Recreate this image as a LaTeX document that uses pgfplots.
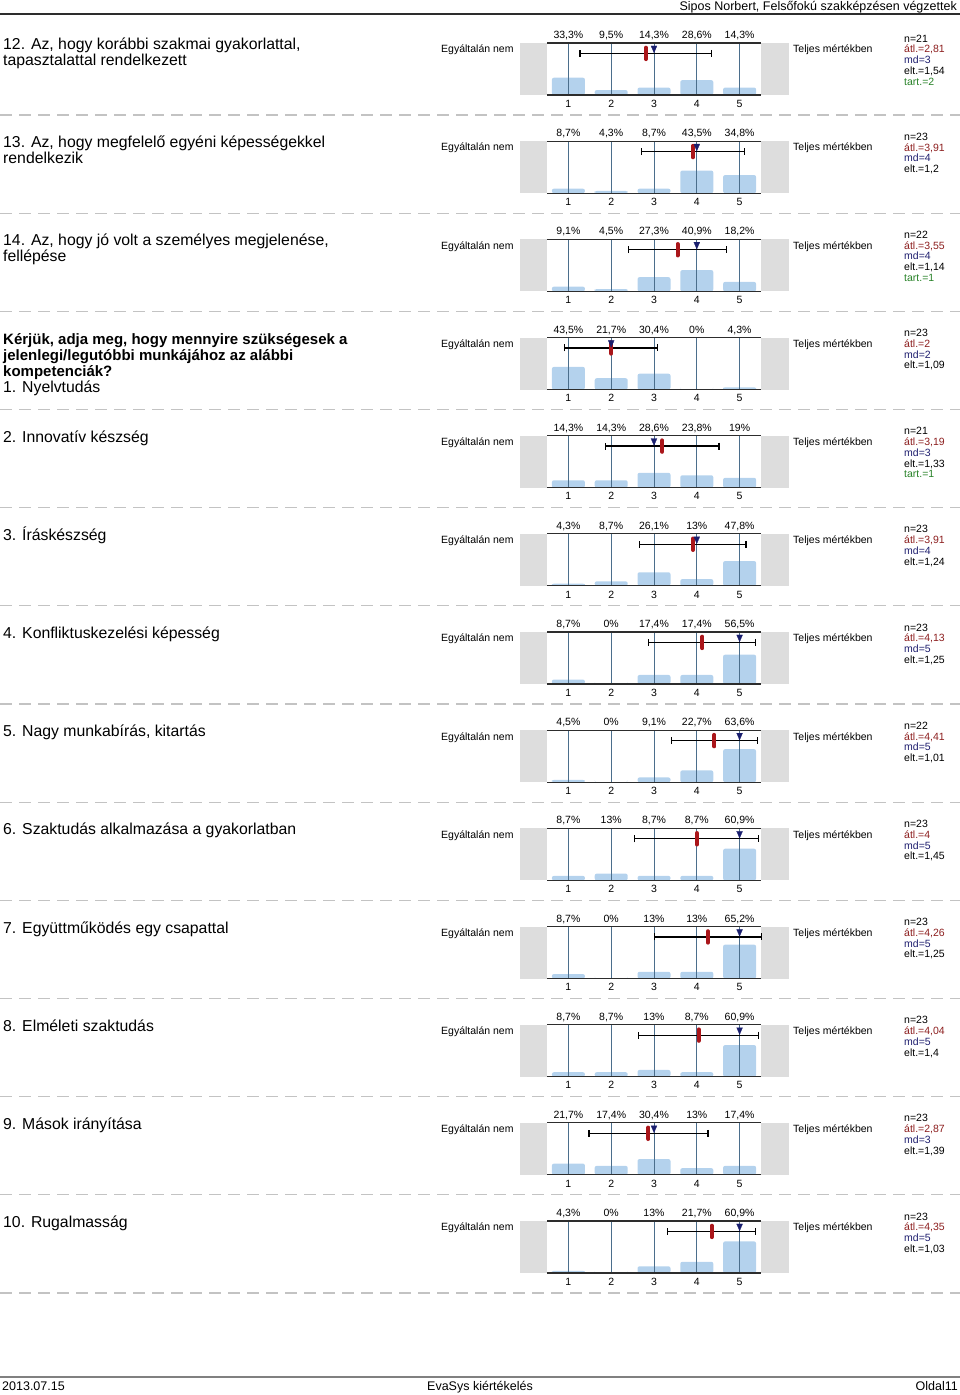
\documentclass[border=0pt]{standalone}
\usepackage{fontspec}
\setmainfont{Liberation Sans}
\usepackage{pgfplots}
\pgfplotsset{compat=1.18}
\usepackage{pgfplotstable}

\definecolor{barc}{RGB}{180,210,237}
\definecolor{greyc}{RGB}{221,221,221}
\definecolor{gridc}{RGB}{75,110,140}
\definecolor{axc}{RGB}{45,45,45}
\definecolor{meanc}{RGB}{170,22,26}
\definecolor{mdc}{RGB}{25,30,110}
\definecolor{atlc}{RGB}{140,30,30}
\definecolor{mdtc}{RGB}{30,30,110}
\definecolor{tartc}{RGB}{40,130,40}
\definecolor{sepc}{RGB}{195,195,195}

\newcommand\smallf{\fontsize{10.5}{10.8}\selectfont}
\newcommand\titlef{\fontsize{15.8}{16}\selectfont}
\newcommand\boldf{\fontsize{15}{16}\selectfont\bfseries}
\newcommand\atl[1]{\textcolor{atlc}{átl.=#1}}
\newcommand\md[1]{\textcolor{mdtc}{md=#1}}
\newcommand\tart[1]{\textcolor{tartc}{tart.=#1}}
% title line k of the current panel
\newcommand\tl[3][\titlef]{\node[anchor=base west, font=#1, inner sep=0pt] at (3pt,{-(\L+14.6+16*#2)*1pt}) {#3};}

% percentages of answers 1..5 for each item
\pgfplotstableread{
x p
1 33.3
2 9.5
3 14.3
4 28.6
5 14.3
}\tA
\pgfplotstableread{
x p
1 8.7
2 4.3
3 8.7
4 43.5
5 34.8
}\tB
\pgfplotstableread{
x p
1 9.1
2 4.5
3 27.3
4 40.9
5 18.2
}\tC
\pgfplotstableread{
x p
1 43.5
2 21.7
3 30.4
4 0
5 4.3
}\tD
\pgfplotstableread{
x p
1 14.3
2 14.3
3 28.6
4 23.8
5 19
}\tE
\pgfplotstableread{
x p
1 4.3
2 8.7
3 26.1
4 13
5 47.8
}\tF
\pgfplotstableread{
x p
1 8.7
2 0
3 17.4
4 17.4
5 56.5
}\tG
\pgfplotstableread{
x p
1 4.5
2 0
3 9.1
4 22.7
5 63.6
}\tH
\pgfplotstableread{
x p
1 8.7
2 13
3 8.7
4 8.7
5 60.9
}\tI
\pgfplotstableread{
x p
1 8.7
2 0
3 13
4 13
5 65.2
}\tJ
\pgfplotstableread{
x p
1 8.7
2 8.7
3 13
4 8.7
5 60.9
}\tK
\pgfplotstableread{
x p
1 21.7
2 17.4
3 30.4
4 13
5 17.4
}\tL
\pgfplotstableread{
x p
1 4.3
2 0
3 13
4 21.7
5 60.9
}\tM

\pgfplotsset{
  panel/.style={
    anchor=north west, scale only axis, width=214pt, height=52pt,
    xmin=0.5, xmax=5.5, ymin=0, ymax=100, clip=false,
    axis line style={draw=none}, xtick={1,2,3,4,5}, ytick=\empty,
    major tick length=0pt,
    xticklabel style={font=\smallf, anchor=north, inner sep=0pt, text height=7.5pt, text depth=0pt, yshift=-4.5pt},
    /pgf/number format/assume math mode=true,
  }
}

% #1 index, #2 table, #3 mean, #4 median, #5 sd, #6 title lines, #7 stats
\newcommand{\panel}[7]{%
  \pgfmathsetmacro\L{35+98.17*#1}%
  \pgfmathsetmacro\T{\L+8}%
  \begin{axis}[panel, at={(547pt,{-\T*1pt})}]
    \addplot[fill=greyc, draw=none] coordinates {(-0.13,0) (0.5,0) (0.5,100) (-0.13,100)} -- cycle;
    \addplot[fill=greyc, draw=none] coordinates {(5.5,0) (6.15,0) (6.15,100) (5.5,100)} -- cycle;
    \addplot[ybar, bar width=33pt, fill=barc, draw=none, rounded corners=2pt] table[x=x, y=p] {#2};
    \addplot[ycomb, gridc, line width=0.9pt, mark=none] table[x=x, y expr=100] {#2};
    \addplot[axc, line width=1.2pt, mark=none] coordinates {(0.5,0) (5.5,0)};
    \addplot[axc, line width=1.2pt, mark=none] coordinates {(0.5,100) (5.5,100)};
    \addplot[draw=none, mark=none, point meta=\thisrow{p},
      nodes near coords={\pgfmathprintnumber[fixed,precision=1,use comma]{\pgfplotspointmeta}\%},
      every node near coord/.append style={font=\smallf, anchor=base, inner sep=0pt, yshift=4.5pt, text=black}]
      table[x=x, y expr=100] {#2};
    \addplot[draw=black, line width=1.2pt, mark=none,
      error bars/.cd, x dir=both, x explicit, error mark=|,
      error bar style={line width=1.2pt, black},
      error mark options={black, line width=1.2pt, mark size=3.5pt}]
      coordinates {(#3,80) +- (#5,0)};
    \addplot[meanc, line width=4pt, line cap=round, mark=none] coordinates {(#3,69) (#3,91)};
    \addplot[only marks, mark=triangle*, mark size=4.6pt,
      mark options={rotate=180, xscale=0.75, fill=mdc, draw=mdc, line width=0.2pt}]
      coordinates {(#4,90)};
  \end{axis}
  #6
  \node[anchor=base west, font=\smallf, inner sep=0pt] at (441pt,{-(\L+17.8)*1pt}) {Egyáltalán nem};
  \node[anchor=base west, font=\smallf, inner sep=0pt] at (793pt,{-(\L+17.8)*1pt}) {Teljes mértékben};
  \node[anchor=north west, align=left, font=\smallf, inner sep=0pt] at (904pt,{-(\L-0.5)*1pt}) {#7};
  \draw[sepc, dash pattern=on 12pt off 7pt, line width=1.2pt] (0pt,{-(\L+80)*1pt}) -- (960pt,{-(\L+80)*1pt});
}

\begin{document}
\begin{tikzpicture}
\path[use as bounding box] (0pt,0pt) rectangle (960pt,-1395pt);
\node[anchor=base east, font=\fontsize{12.5}{14}\selectfont, inner sep=0pt] at (957pt,-10.5pt) {Sipos Norbert, Felsőfokú szakképzésen végzettek};
\draw[axc, line width=1.5pt] (0pt,-14pt) -- (960pt,-14pt);

\panel{0}{\tA}{2.81}{3}{1.54}{\tl{0}{12. Az, hogy korábbi szakmai gyakorlattal,}\tl{1}{tapasztalattal rendelkezett}}{n=21\\\atl{2,81}\\\md{3}\\elt.=1,54\\\tart{2}}
\panel{1}{\tB}{3.91}{4}{1.2}{\tl{0}{13. Az, hogy megfelelő egyéni képességekkel}\tl{1}{rendelkezik}}{n=23\\\atl{3,91}\\\md{4}\\elt.=1,2}
\panel{2}{\tC}{3.55}{4}{1.14}{\tl{0}{14. Az, hogy jó volt a személyes megjelenése,}\tl{1}{fellépése}}{n=22\\\atl{3,55}\\\md{4}\\elt.=1,14\\\tart{1}}
\panel{3}{\tD}{2}{2}{1.09}{\tl[\boldf]{0}{Kérjük, adja meg, hogy mennyire szükségesek a}\tl[\boldf]{1}{jelenlegi/legutóbbi munkájához az alábbi}\tl[\boldf]{2}{kompetenciák?}\tl{3}{1. Nyelvtudás}}{n=23\\\atl{2}\\\md{2}\\elt.=1,09}
\panel{4}{\tE}{3.19}{3}{1.33}{\tl{0}{2. Innovatív készség}}{n=21\\\atl{3,19}\\\md{3}\\elt.=1,33\\\tart{1}}
\panel{5}{\tF}{3.91}{4}{1.24}{\tl{0}{3. Íráskészség}}{n=23\\\atl{3,91}\\\md{4}\\elt.=1,24}
\panel{6}{\tG}{4.13}{5}{1.25}{\tl{0}{4. Konfliktuskezelési képesség}}{n=23\\\atl{4,13}\\\md{5}\\elt.=1,25}
\panel{7}{\tH}{4.41}{5}{1.01}{\tl{0}{5. Nagy munkabírás, kitartás}}{n=22\\\atl{4,41}\\\md{5}\\elt.=1,01}
\panel{8}{\tI}{4}{5}{1.45}{\tl{0}{6. Szaktudás alkalmazása a gyakorlatban}}{n=23\\\atl{4}\\\md{5}\\elt.=1,45}
\panel{9}{\tJ}{4.26}{5}{1.25}{\tl{0}{7. Együttműködés egy csapattal}}{n=23\\\atl{4,26}\\\md{5}\\elt.=1,25}
\panel{10}{\tK}{4.04}{5}{1.4}{\tl{0}{8. Elméleti szaktudás}}{n=23\\\atl{4,04}\\\md{5}\\elt.=1,4}
\panel{11}{\tL}{2.87}{3}{1.39}{\tl{0}{9. Mások irányítása}}{n=23\\\atl{2,87}\\\md{3}\\elt.=1,39}
\panel{12}{\tM}{4.35}{5}{1.03}{\tl{0}{10. Rugalmasság}}{n=23\\\atl{4,35}\\\md{5}\\elt.=1,03}

\draw[gray, line width=1.5pt] (0pt,-1377pt) -- (960pt,-1377pt);
\node[anchor=base west, font=\fontsize{12.5}{14}\selectfont, inner sep=0pt] at (2pt,-1390.5pt) {2013.07.15};
\node[anchor=base, font=\fontsize{12.5}{14}\selectfont, inner sep=0pt] at (480pt,-1390.5pt) {EvaSys kiértékelés};
\node[anchor=base east, font=\fontsize{12.5}{14}\selectfont, inner sep=0pt] at (958pt,-1390.5pt) {Oldal11};
\end{tikzpicture}
\end{document}
